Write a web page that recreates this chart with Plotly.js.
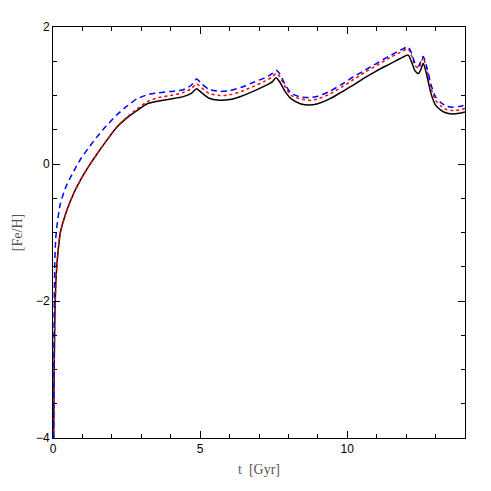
<!DOCTYPE html>
<html><head><meta charset="utf-8">
<script src="https://cdn.plot.ly/plotly-3.0.1.min.js"></script>
<style>html,body{margin:0;padding:0;background:#fff;}#chart{width:491px;height:491px;}</style>
</head><body><div id="chart"></div>
<script>
const t = [0.02,0.04,0.06,0.08,0.1,0.15,0.25,0.45,0.7,0.95,1.25,1.5,1.8,2.15,2.5,2.85,3.2,3.6,4.0,4.4,4.7,4.88,5.05,5.3,5.65,6.0,6.4,6.8,7.2,7.45,7.58,7.7,7.9,8.1,8.4,8.7,9.0,9.4,9.8,10.2,10.6,11.0,11.4,11.8,12.07,12.2,12.3,12.42,12.5,12.58,12.7,12.85,13.0,13.2,13.4,13.6,13.8,14.0];
const feh_black = [-4.0,-3.0,-2.3,-1.95,-1.7,-1.38,-1.0,-0.7,-0.43,-0.22,-0.01,0.15,0.33,0.53,0.67,0.78,0.88,0.92,0.95,0.98,1.03,1.1,1.04,0.96,0.93,0.94,0.99,1.06,1.14,1.2,1.26,1.2,1.05,0.95,0.88,0.86,0.88,0.95,1.05,1.15,1.26,1.36,1.45,1.54,1.59,1.47,1.36,1.32,1.38,1.47,1.3,1.02,0.86,0.78,0.74,0.73,0.74,0.76];
const feh_red = [-4.0,-3.0,-2.3,-1.95,-1.7,-1.38,-1.0,-0.7,-0.43,-0.22,-0.01,0.15,0.33,0.53,0.68,0.8,0.91,0.97,1.0,1.04,1.1,1.17,1.11,1.03,1.0,1.01,1.06,1.13,1.21,1.27,1.32,1.28,1.12,1.0,0.95,0.93,0.95,1.02,1.12,1.23,1.34,1.44,1.54,1.63,1.68,1.56,1.44,1.4,1.47,1.55,1.38,1.1,0.93,0.84,0.79,0.78,0.79,0.81];
const feh_blue = [-4.0,-2.2,-1.45,-1.2,-1.05,-0.85,-0.58,-0.32,-0.11,0.08,0.26,0.4,0.55,0.71,0.84,0.95,1.01,1.04,1.06,1.08,1.15,1.24,1.17,1.09,1.06,1.07,1.12,1.19,1.26,1.32,1.37,1.32,1.15,1.03,0.98,0.97,0.99,1.06,1.16,1.27,1.37,1.47,1.57,1.66,1.71,1.6,1.47,1.43,1.5,1.57,1.42,1.15,0.98,0.89,0.84,0.83,0.84,0.86];

const traces = [
  {x:t, y:feh_black, mode:'lines', line:{color:'#000', width:1.5, shape:'spline', smoothing:0.6}},
  {x:t, y:feh_red, mode:'lines', line:{color:'#ff0000', width:1.5, dash:'dot', shape:'spline', smoothing:0.6}},
  {x:t, y:feh_blue, mode:'lines', line:{color:'#0000ff', width:1.5, dash:'6px,4px', shape:'spline', smoothing:0.6}}
];
const axFont = {family:'Liberation Sans, Arial, sans-serif', size:12, color:'#000'};
const titleFont = {family:'Liberation Serif, Times New Roman, serif', size:14, color:'#555'};
const layout = {
  width:491, height:491, showlegend:false,
  paper_bgcolor:'#fff', plot_bgcolor:'#fff',
  margin:{l:53, r:26, t:27, b:53},
  xaxis:{range:[0,14], tick0:0, dtick:5, ticks:'inside', ticklen:7, tickcolor:'#000', tickwidth:1,
    showline:true, linecolor:'#000', linewidth:1, mirror:'ticks', showgrid:false, zeroline:false,
    tickfont:axFont, minor:{dtick:1, ticks:'inside', ticklen:4, tickcolor:'#000', showgrid:false},
    title:{text:'t  [Gyr]', font:titleFont, standoff:8}},
  yaxis:{range:[-4,2], tick0:-4, dtick:2, ticks:'inside', ticklen:7, tickcolor:'#000', tickwidth:1,
    showline:true, linecolor:'#000', linewidth:1, mirror:'ticks', showgrid:false, zeroline:false,
    tickfont:axFont, minor:{dtick:0.5, ticks:'inside', ticklen:4, tickcolor:'#000', showgrid:false},
    title:{text:'[Fe/H]', font:titleFont, standoff:10}}
};
Plotly.newPlot('chart', traces, layout, {displayModeBar:false, staticPlot:true});
</script></body></html>
